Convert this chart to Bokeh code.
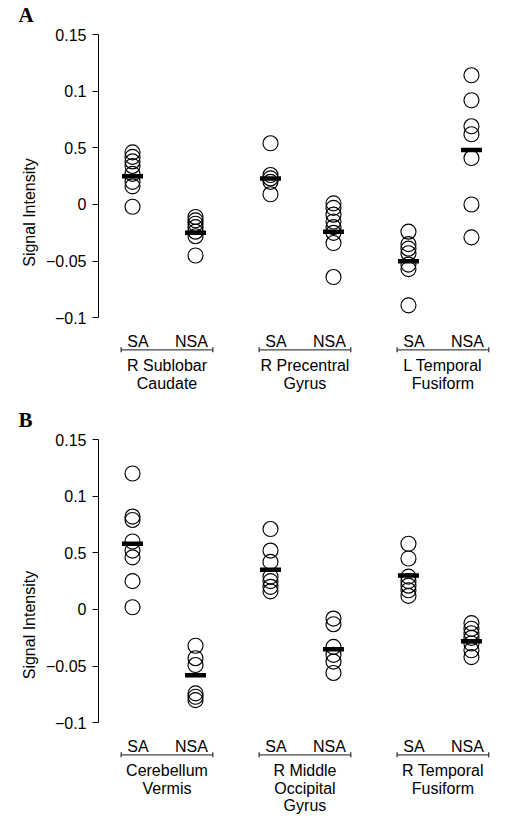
from bokeh.plotting import figure
from bokeh.models import Range1d, FixedTicker, Title
from bokeh.layouts import column
from bokeh.embed import file_html
from bokeh.resources import INLINE
from bokeh.core.properties import value

# ---------------- data ----------------
conditions = ["SA", "NSA"]
tick_values = [-0.1, -0.05, 0.0, 0.05, 0.1, 0.15]
tick_labels = ["\u22120.1", "\u22120.05", "0", "0.5", "0.1", "0.15"]
y_label = "Signal Intensity"

regions_a = ["R Sublobar\nCaudate", "R Precentral\nGyrus", "L Temporal\nFusiform"]
a_sa = [
    [0.046, 0.042, 0.038, 0.034, 0.027, 0.020, 0.016, -0.002],
    [0.054, 0.026, 0.023, 0.020, 0.009],
    [-0.024, -0.035, -0.039, -0.043, -0.053, -0.057, -0.089],
]
a_nsa = [
    [-0.011, -0.014, -0.017, -0.020, -0.024, -0.028, -0.045],
    [0.001, -0.003, -0.009, -0.015, -0.020, -0.025, -0.034, -0.064],
    [0.114, 0.092, 0.069, 0.062, 0.041, 0.000, -0.029],
]
a_sa_mean = [0.025, 0.023, -0.050]
a_nsa_mean = [-0.025, -0.024, 0.048]

regions_b = ["Cerebellum\nVermis", "R Middle\nOccipital\nGyrus", "R Temporal\nFusiform"]
b_sa = [
    [0.120, 0.082, 0.079, 0.060, 0.052, 0.046, 0.025, 0.002],
    [0.071, 0.052, 0.042, 0.029, 0.025, 0.020, 0.016],
    [0.058, 0.045, 0.029, 0.025, 0.021, 0.017, 0.012],
]
b_nsa = [
    [-0.032, -0.043, -0.049, -0.074, -0.077, -0.080],
    [-0.008, -0.013, -0.033, -0.040, -0.046, -0.056],
    [-0.012, -0.017, -0.021, -0.025, -0.030, -0.036, -0.042],
]
b_sa_mean = [0.058, 0.035, 0.030]
b_nsa_mean = [-0.058, -0.035, -0.028]

# ---------------- layout constants ----------------
BL, BR = 98, 4
FRAME_W = 400
W = BL + FRAME_W + BR
XU = 63.0            # px per x unit
X0 = -0.54
STEP = 2.19          # group spacing in x units
PXU = 1133.3         # px per y unit
SANS = "Liberation Sans"
FS = "16px"


def make_panel(letter, regions, sa, nsa, sa_mean, nsa_mean, height, btop):
    bbot = 2
    frame_h = height - btop - bbot
    y_end = 0.15 + 8 / PXU
    y_start = y_end - frame_h / PXU
    p = figure(width=W, height=height,
               x_range=Range1d(X0, X0 + FRAME_W / XU),
               y_range=Range1d(y_start, y_end),
               output_backend="svg", toolbar_location=None,
               x_axis_location=None,
               min_border_left=BL, min_border_right=BR,
               min_border_top=btop, min_border_bottom=bbot)
    p.outline_line_color = None
    p.grid.visible = False

    p.add_layout(Title(text=letter, align="left", offset=-80, standoff=0,
                       text_font="Liberation Serif", text_font_style="bold",
                       text_font_size="21px", text_color="black"), "above")

    ax = p.yaxis[0]
    ax.ticker = FixedTicker(ticks=tick_values)
    ax.major_label_overrides = dict(zip(tick_values, tick_labels))
    ax.bounds = (-0.1, 0.15)
    ax.minor_tick_line_color = None
    ax.major_tick_in = 0
    ax.major_tick_out = 6
    ax.major_label_standoff = 6
    ax.axis_line_color = "black"
    ax.major_tick_line_color = "black"
    ax.major_label_text_font = SANS
    ax.major_label_text_font_size = FS
    ax.major_label_text_color = "black"
    ax.axis_label = y_label
    ax.axis_label_text_font = SANS
    ax.axis_label_text_font_size = FS
    ax.axis_label_text_font_style = "normal"
    ax.axis_label_text_color = "black"
    ax.axis_label_standoff = 5

    ybot = -0.1
    for i, name in enumerate(regions):
        gx = i * STEP
        xs_sa = [gx] * len(sa[i])
        xs_nsa = [gx + 1.0] * len(nsa[i])
        p.scatter(xs_sa, sa[i], size=15, marker="circle", fill_color=None,
                  line_color="black", line_width=1.15)
        p.scatter(xs_nsa, nsa[i], size=15, marker="circle", fill_color=None,
                  line_color="black", line_width=1.15)
        p.rect([gx, gx + 1.0], [sa_mean[i], nsa_mean[i]], width=21, height=4.5,
               width_units="screen", height_units="screen",
               fill_color="black", line_color=None)

        # condition labels
        p.text([gx + 0.087, gx + 0.936], [ybot, ybot], text=conditions,
               text_font=value(SANS), text_font_size=FS, text_color="black",
               text_align="center", text_baseline="alphabetic", y_offset=24)
        # bracket
        yb = ybot - 32 / PXU
        x_l, x_r = gx - 0.180, gx + 1.274
        p.segment([x_l, x_l, x_r], [yb, yb - 2.5 / PXU, yb - 2.5 / PXU],
                  [x_r, x_l, x_r], [yb, yb + 2.5 / PXU, yb + 2.5 / PXU],
                  line_color="#444444", line_width=1.4)
        # region name lines
        lines = name.split("\n")
        for j, ln in enumerate(lines):
            p.text([gx + 0.547], [ybot], text=[ln],
                   text_font=value(SANS), text_font_size=FS, text_color="black",
                   text_align="center", text_baseline="alphabetic",
                   y_offset=47.5 + 17.7 * j)
    return p


pa = make_panel("A", regions_a, a_sa, a_nsa, a_sa_mean, a_nsa_mean, 400, 26)
pb = make_panel("B", regions_b, b_sa, b_nsa, b_sa_mean, b_nsa_mean, 420, 31)

layout = column(pa, pb, spacing=0)
open("out.html", "w").write(file_html(layout, INLINE))
